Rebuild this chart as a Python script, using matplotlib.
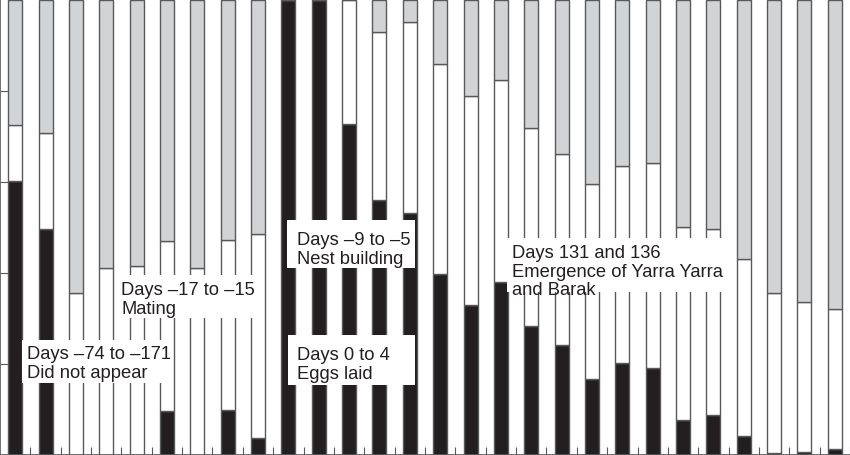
import numpy as np
import matplotlib
matplotlib.use('Agg')
import matplotlib.pyplot as plt
from matplotlib.patches import Rectangle

# percent of each day-group (bottom to top): black, white, grey
black = [60.2, 49.7, 0, 0, 0, 9.7, 0, 9.9, 3.8, 100, 100, 72.7, 56.0, 53.2,
         39.8, 33.0, 38.0, 28.4, 24.2, 16.6, 20.2, 19.1, 7.8, 8.9, 4.2, 0.5, 0.7, 1.4]
white = [12.3, 21.1, 35.6, 41.2, 41.5, 37.4, 41.2, 37.4, 44.8, 0, 0, 27.3, 37.0, 42.0,
         46.1, 45.8, 44.4, 43.5, 41.9, 42.9, 43.3, 45.0, 42.4, 40.8, 38.9, 35.0, 33.0, 30.6]
grey = [27.5, 29.2, 64.4, 58.8, 58.5, 52.9, 58.8, 52.7, 51.4, 0, 0, 0, 7.0, 4.8,
        14.1, 21.2, 17.6, 28.1, 33.9, 40.5, 36.5, 35.9, 49.8, 50.3, 56.9, 64.5, 66.3, 68.0]

# label text, left x / cap-top y in pixels, box (x0, x1, y0, y1) in pixels
labels = [
    ("Days \u201374 to \u2013171\nDid not appear", 27, 346, (22, 170, 340, 383)),
    ("Days \u201317 to \u201315\nMating", 121, 282, (115, 258, 275, 318)),
    ("Days \u20139 to \u20135\nNest building", 297, 232, (287, 415, 220, 268)),
    ("Days 0 to 4\nEggs laid", 297, 347, (288, 415, 335, 385)),
    ("Days 131 and 136\nEmergence of Yarra Yarra\nand Barak", 512, 245, (507, 730, 238, 292)),
]

W, H = 850, 455
BLACK = '#231f20'
GREY = '#d1d3d4'
EDGE = '#59595b'

plt.rcParams['font.family'] = ['Liberation Sans', 'DejaVu Sans']

fig = plt.figure(figsize=(W / 100, H / 100), dpi=100)
ax = fig.add_axes([0, 0, 1, 1])

x = np.arange(len(black))
b = np.array(black) / 100
w = np.array(white) / 100
g = np.array(grey) / 100
kw = dict(width=0.46, edgecolor=EDGE, linewidth=1.0)
ax.bar(x, b, color=BLACK, **kw)
ax.bar(x, w, bottom=b, color='white', **kw)
ax.bar(x, g, bottom=b + w, color=GREY, **kw)

ax.set_xlim(-0.5, len(black) - 0.5)
ax.set_ylim(0, 1)
ax.set_xticks(x + 0.5)
ax.set_yticks([0.2, 0.4, 0.6, 0.8])
ax.set_xticklabels([])
ax.set_yticklabels([])
ax.tick_params(axis='x', direction='in', length=5.5, width=0.8, color=EDGE)
ax.tick_params(axis='y', direction='in', length=6, width=0.8, color=EDGE)
for s in ['top', 'right']:
    ax.spines[s].set_visible(False)
for s in ['left', 'bottom']:
    ax.spines[s].set_color(EDGE)
    ax.spines[s].set_linewidth(1.2)

for txt, tx, ty, (x0, x1, y0, y1) in labels:
    ax.add_patch(Rectangle((x0 / W, 1 - y1 / H), (x1 - x0) / W, (y1 - y0) / H,
                           transform=ax.transAxes, facecolor='white',
                           edgecolor='none', zorder=5))
    ax.text(tx / W, 1 - ty / H, txt, transform=ax.transAxes, ha='left', va='top',
            fontsize=13.2, color=BLACK, linespacing=1.12, zorder=6)

fig.savefig('out.png', dpi=100)
